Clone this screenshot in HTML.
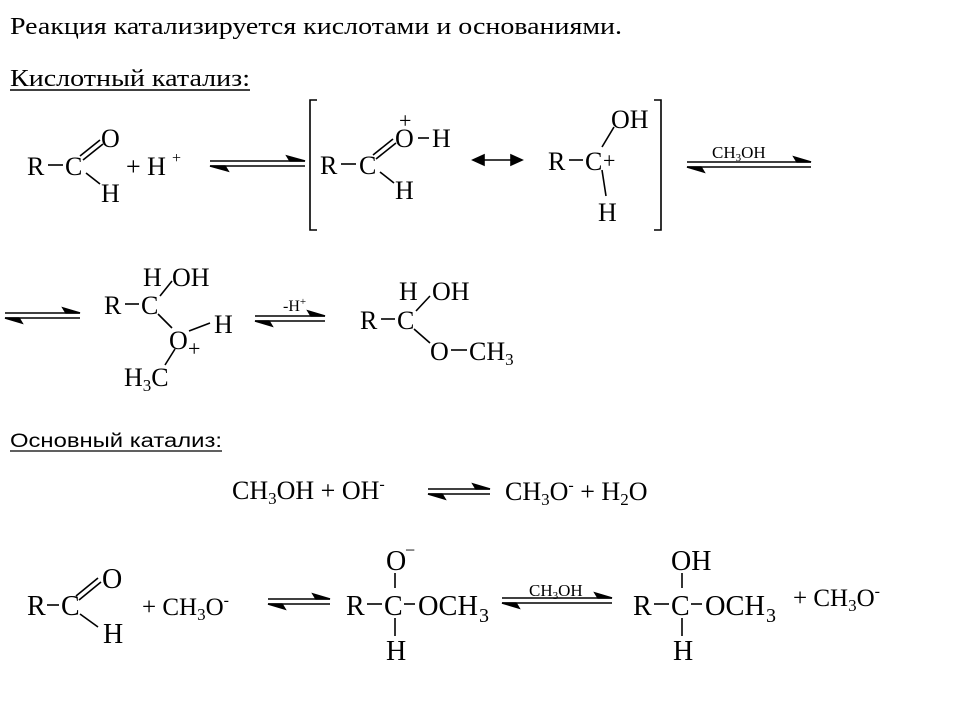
<!DOCTYPE html>
<html><head><meta charset="utf-8"><style>html,body{margin:0;padding:0;background:#fff}svg{display:block}</style></head>
<body>
<svg width="960" height="720" viewBox="0 0 960 720" xmlns="http://www.w3.org/2000/svg" font-family="Liberation Serif, serif" fill="#000">
<text x="10" y="34" font-size="24" textLength="612" lengthAdjust="spacingAndGlyphs">Реакция катализируется кислотами и основаниями.</text>
<text x="10" y="86" font-size="24" textLength="240" lengthAdjust="spacingAndGlyphs">Кислотный катализ:</text>
<line x1="10" y1="90" x2="250" y2="90" stroke="#000" stroke-width="1.5"/>

<!-- Row 1 -->
<g font-size="26">
<text x="27" y="175">R</text><text x="65" y="175">C</text>
<text x="101" y="147">O</text><text x="101" y="202">H</text>
<text x="126" y="175">+ H</text><text x="172" y="163" font-size="16">+</text>
<text x="320" y="174">R</text><text x="359" y="174">C</text>
<text x="395" y="147">O</text><text x="399" y="128" font-size="22">+</text>
<text x="432" y="147">H</text><text x="395" y="199">H</text>
<text x="548" y="170">R</text><text x="585" y="170">C</text><text x="603" y="168" font-size="22">+</text>
<text x="611" y="128">OH</text><text x="598" y="221">H</text>
</g>
<g stroke="#000" stroke-width="1.6" fill="none">
<line x1="48" y1="165" x2="63" y2="165"/>
<line x1="80" y1="156" x2="100" y2="140"/><line x1="83" y1="160" x2="103" y2="144"/>
<line x1="86" y1="173" x2="100" y2="184"/>
<line x1="341" y1="164" x2="356" y2="164"/>
<line x1="373" y1="155" x2="393" y2="139"/><line x1="376" y1="159" x2="396" y2="143"/>
<line x1="380" y1="172" x2="394" y2="183"/>
<line x1="418" y1="138" x2="429" y2="138"/>
<line x1="569" y1="160" x2="583" y2="160"/>
<line x1="602" y1="147" x2="614" y2="127"/><line x1="602" y1="170" x2="606" y2="196"/>
<path d="M317 100 H310 V230 H317"/><path d="M654 100 H661 V230 H654"/>
</g>
<g stroke="#000" stroke-width="1.6" fill="#000">
<line x1="210" y1="161" x2="305" y2="161"/><line x1="210" y1="166" x2="305" y2="166"/>
<path d="M305 161 L287 156 L290 161Z"/><path d="M210 166 L228 171 L225 166Z"/>
<line x1="475" y1="160" x2="520" y2="160"/>
<path d="M473 160 L484 155 L484 165Z"/><path d="M522 160 L511 155 L511 165Z"/>
<line x1="687" y1="162" x2="811" y2="162"/><line x1="687" y1="167" x2="811" y2="167"/>
<path d="M811 162 L794 157 L797 162Z"/><path d="M687 167 L704 172 L701 167Z"/>
<line x1="5" y1="313" x2="80" y2="313"/><line x1="5" y1="318" x2="80" y2="318"/>
<path d="M80 313 L63 308 L66 313Z"/><path d="M5 318 L22 323 L19 318Z"/>
<line x1="255" y1="316" x2="325" y2="316"/><line x1="255" y1="321" x2="325" y2="321"/>
<path d="M325 316 L308 311 L311 316Z"/><path d="M255 321 L272 326 L269 321Z"/>
<line x1="428" y1="489" x2="490" y2="489"/><line x1="428" y1="494" x2="490" y2="494"/>
<path d="M490 489 L473 484 L476 489Z"/><path d="M428 494 L445 499 L442 494Z"/>
<line x1="268" y1="599" x2="330" y2="599"/><line x1="268" y1="604" x2="330" y2="604"/>
<path d="M330 599 L313 594 L316 599Z"/><path d="M268 604 L285 609 L282 604Z"/>
<line x1="502" y1="598" x2="612" y2="598"/><line x1="502" y1="603" x2="612" y2="603"/>
<path d="M612 598 L595 593 L598 598Z"/><path d="M502 603 L519 608 L516 603Z"/>
</g>
<text x="712" y="158" font-size="17">CH<tspan font-size="11" dy="3">3</tspan><tspan dy="-3">OH</tspan></text>
<text x="283" y="311" font-size="16">-H<tspan font-size="11" dy="-6">+</tspan></text>

<!-- Row 2 -->
<g font-size="26">
<text x="104" y="314">R</text><text x="141" y="314">C</text>
<text x="143" y="286">H</text><text x="172" y="286">OH</text>
<text x="169" y="349">O</text><text x="188" y="356" font-size="22">+</text>
<text x="214" y="333">H</text>
<text x="124" y="386">H<tspan font-size="17" dy="5">3</tspan><tspan dy="-5">C</tspan></text>
<text x="360" y="329">R</text><text x="397" y="329">C</text>
<text x="399" y="300">H</text><text x="432" y="300">OH</text>
<text x="430" y="360">O</text><text x="469" y="360">CH<tspan font-size="17" dy="5">3</tspan></text>
</g>
<g stroke="#000" stroke-width="1.6">
<line x1="125" y1="304" x2="139" y2="304"/>
<line x1="160" y1="296" x2="172" y2="281"/><line x1="158" y1="314" x2="172" y2="328"/>
<line x1="189" y1="331" x2="210" y2="323"/><line x1="175" y1="349" x2="165" y2="365"/>
<line x1="381" y1="319" x2="395" y2="319"/>
<line x1="416" y1="311" x2="430" y2="296"/><line x1="414" y1="329" x2="430" y2="343"/>
<line x1="451" y1="350" x2="467" y2="350"/>
</g>

<text x="10" y="447" font-family="Liberation Sans, sans-serif" font-size="19" textLength="212" lengthAdjust="spacingAndGlyphs">Основный катализ:</text>
<line x1="10" y1="451" x2="222" y2="451" stroke="#000" stroke-width="1.3"/>
<g font-size="26">
<text x="232" y="499">CH<tspan font-size="17" dy="5">3</tspan><tspan dy="-5">OH + OH</tspan><tspan font-size="16" dy="-10">-</tspan></text>
<text x="505" y="500">CH<tspan font-size="17" dy="5">3</tspan><tspan dy="-5">O</tspan><tspan font-size="16" dy="-10">-</tspan><tspan dy="10"> + H</tspan><tspan font-size="17" dy="5">2</tspan><tspan dy="-5">O</tspan></text>
</g>

<!-- Bottom -->
<g font-size="28">
<text x="27" y="615">R</text><text x="61" y="615">C</text>
<text x="102" y="588">O</text><text x="103" y="643">H</text>
<text x="142" y="615" font-size="25">+ CH<tspan font-size="17" dy="5">3</tspan><tspan dy="-5">O</tspan><tspan font-size="16" dy="-10">-</tspan></text>
<text x="346" y="615">R</text><text x="384" y="615">C</text>
<text x="418" y="615" textLength="60" lengthAdjust="spacingAndGlyphs">OCH</text><text x="479" y="622" font-size="20">3</text>
<text x="386" y="570">O</text><text x="405" y="556" font-size="18">−</text>
<text x="386" y="660">H</text>
<text x="633" y="615">R</text><text x="671" y="615">C</text>
<text x="705" y="615" textLength="60" lengthAdjust="spacingAndGlyphs">OCH</text><text x="766" y="622" font-size="20">3</text>
<text x="671" y="570">OH</text><text x="673" y="660">H</text>
<text x="793" y="606" font-size="25">+ CH<tspan font-size="17" dy="5">3</tspan><tspan dy="-5">O</tspan><tspan font-size="16" dy="-10">-</tspan></text>
</g>
<text x="529" y="596" font-size="17">CH<tspan font-size="11" dy="3">3</tspan><tspan dy="-3">OH</tspan></text>
<g stroke="#000" stroke-width="1.6">
<line x1="47" y1="605" x2="59" y2="605"/>
<line x1="76" y1="596" x2="98" y2="578"/><line x1="79" y1="600" x2="101" y2="582"/>
<line x1="80" y1="614" x2="98" y2="627"/>
<line x1="367" y1="604" x2="382" y2="604"/><line x1="404" y1="604" x2="415" y2="604"/>
<line x1="395" y1="573" x2="395" y2="588"/><line x1="395" y1="618" x2="395" y2="636"/>
<line x1="654" y1="604" x2="669" y2="604"/><line x1="691" y1="604" x2="702" y2="604"/>
<line x1="682" y1="573" x2="682" y2="588"/><line x1="682" y1="618" x2="682" y2="636"/>
</g>
</svg>
</body></html>
